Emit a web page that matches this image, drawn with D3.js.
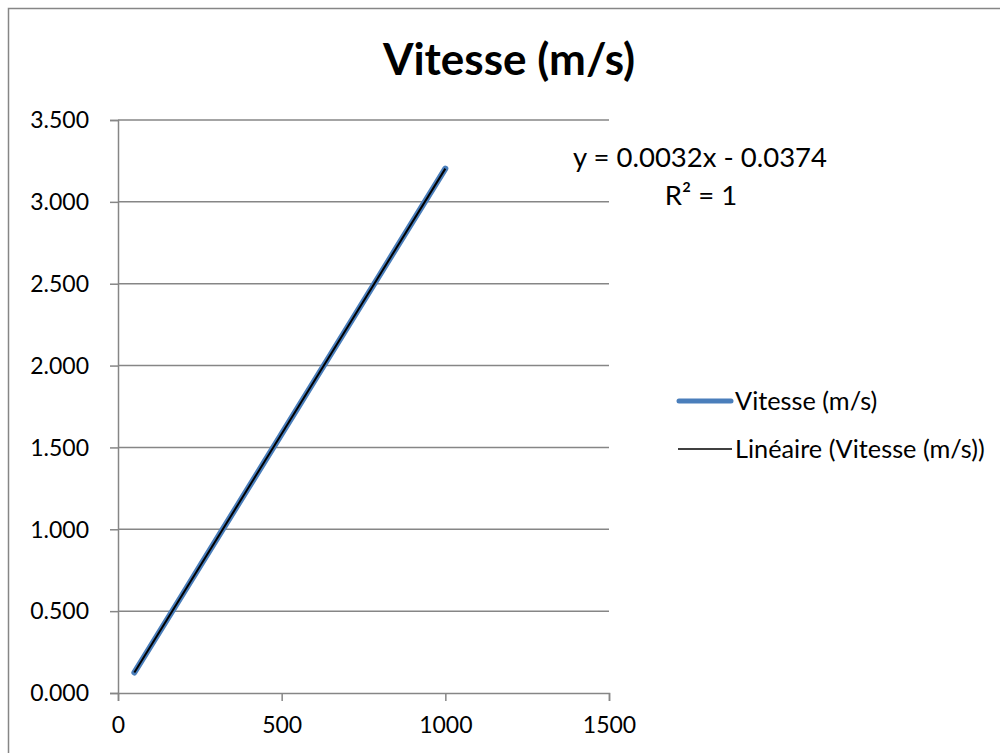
<!DOCTYPE html>
<html>
<head>
<meta charset="utf-8">
<script src="https://cdn.jsdelivr.net/npm/d3@7"></script>
<style>
  html, body { margin: 0; padding: 0; background: #fff; }
  svg { display: block; font-family: Lato, "Open Sans", sans-serif; }
</style>
</head>
<body>
<svg id="chart" width="1000" height="753"></svg>
<script>
// Measured distances and the speed computed for each
const distances = [50, 100, 150, 200, 250, 300, 350, 400, 450, 500,
                   550, 600, 650, 700, 750, 800, 850, 900, 950, 1000];
const speeds = [0.125, 0.287, 0.449, 0.611, 0.773, 0.935, 1.097, 1.259, 1.421, 1.583,
                1.745, 1.907, 2.069, 2.231, 2.393, 2.555, 2.717, 2.879, 3.041, 3.203];
const xTicks = [0, 500, 1000, 1500];
const yTicks = [0, 0.5, 1, 1.5, 2, 2.5, 3, 3.5];
const titleText = "Vitesse (m/s)";
const seriesName = "Vitesse (m/s)";
const trendName = "Linéaire (Vitesse (m/s))";
const equationText = "y = 0.0032x - 0.0374";
const r2Text = "R² = 1";

const svg = d3.select("#chart");
const plot = { left: 118, right: 609, top: 120, bottom: 693 };
const gridColor = "#868686";

const x = d3.scaleLinear().domain([0, 1500]).range([plot.left, plot.right]);
const y = d3.scaleLinear().domain([0, 3.5]).range([plot.bottom, plot.top]);

// chart frame
svg.append("rect")
  .attr("x", 8.5).attr("y", 8.5)
  .attr("width", 1010).attr("height", 760)
  .attr("fill", "#fff")
  .attr("stroke", gridColor).attr("stroke-width", 1.5);

// title
svg.append("text")
  .attr("x", 509).attr("y", 75)
  .attr("text-anchor", "middle")
  .attr("font-size", 44).attr("font-weight", 700)
  .attr("fill", "#000")
  .text(titleText);

// horizontal gridlines
svg.append("g")
  .selectAll("line")
  .data(yTicks.filter(d => d > 0))
  .join("line")
  .attr("x1", plot.left).attr("x2", plot.right)
  .attr("y1", d => y(d)).attr("y2", d => y(d))
  .attr("stroke", gridColor).attr("stroke-width", 1.5);

// y axis
const yAxis = svg.append("g")
  .attr("transform", `translate(${plot.left},0)`)
  .call(d3.axisLeft(y).tickValues(yTicks).tickSize(8).tickPadding(21)
    .tickFormat(d3.format(".3f")));
yAxis.select(".domain").attr("stroke", gridColor).attr("stroke-width", 1.5);
yAxis.selectAll(".tick line").attr("stroke", gridColor).attr("stroke-width", 1.5);
yAxis.selectAll(".tick text")
  .attr("font-size", 23).attr("font-family", "Lato, sans-serif")
  .attr("fill", "#000").attr("dy", "0.34em");

// x axis
const xAxis = svg.append("g")
  .attr("transform", `translate(0,${plot.bottom})`)
  .call(d3.axisBottom(x).tickValues(xTicks).tickSize(8).tickPadding(16)
    .tickFormat(d3.format("d")));
xAxis.select(".domain").attr("stroke", gridColor).attr("stroke-width", 1.5);
xAxis.selectAll(".tick line").attr("stroke", gridColor).attr("stroke-width", 1.5);
xAxis.selectAll(".tick text")
  .attr("font-size", 23).attr("font-family", "Lato, sans-serif")
  .attr("fill", "#000");

// data series
const points = distances.map((d, i) => [d, speeds[i]]);
const line = d3.line().x(d => x(d[0])).y(d => y(d[1]));
svg.append("path")
  .datum(points)
  .attr("d", line)
  .attr("fill", "none")
  .attr("stroke", "#4a7ebb")
  .attr("stroke-width", 6)
  .attr("stroke-linecap", "round")
  .attr("stroke-linejoin", "round");

// least-squares linear trendline
const mx = d3.mean(distances), my = d3.mean(speeds);
const slope = d3.sum(points, p => (p[0] - mx) * (p[1] - my)) /
              d3.sum(points, p => (p[0] - mx) ** 2);
const intercept = my - slope * mx;
const [x0, x1] = d3.extent(distances);
svg.append("path")
  .datum([[x0, slope * x0 + intercept], [x1, slope * x1 + intercept]])
  .attr("d", line)
  .attr("fill", "none")
  .attr("stroke", "#000")
  .attr("stroke-width", 2);

// trendline equation
const eq = svg.append("g").attr("font-size", 27.5).attr("fill", "#000");
eq.append("text").attr("x", 700).attr("y", 167).attr("text-anchor", "middle").text(equationText);
eq.append("text").attr("x", 701).attr("y", 205).attr("text-anchor", "middle").text(r2Text);

// legend
const legend = svg.append("g").attr("font-size", 25.3).attr("fill", "#000");
legend.append("line")
  .attr("x1", 679).attr("x2", 731).attr("y1", 401).attr("y2", 401)
  .attr("stroke", "#4a7ebb").attr("stroke-width", 5).attr("stroke-linecap", "round");
legend.append("text").attr("x", 735).attr("y", 410).text(seriesName);
legend.append("line")
  .attr("x1", 678).attr("x2", 732).attr("y1", 449).attr("y2", 449)
  .attr("stroke", "#000").attr("stroke-width", 1.5);
legend.append("text").attr("x", 735).attr("y", 458).text(trendName);
</script>
</body>
</html>
